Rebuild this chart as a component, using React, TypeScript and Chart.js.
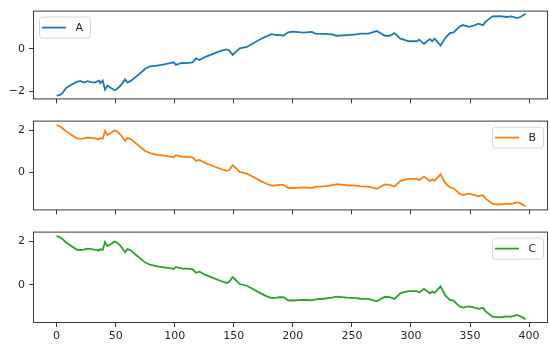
import React, { useEffect, useRef } from "react";
import { Chart, registerables } from "chart.js";

Chart.register(...registerables);

const xIndex = [
  0, 3, 5, 8, 12, 17, 20, 23, 26, 29, 32, 36, 37, 39, 41, 43, 46, 49, 51, 54,
  58, 60, 63, 67, 71, 75, 79, 85, 91, 96, 99, 101, 106, 110, 115, 118, 121, 126, 133, 139,
  144, 146, 149, 151, 155, 161, 167, 172, 178, 182, 186, 189, 192, 196, 200, 209, 216, 219, 226, 233,
  237, 246, 254, 257, 264, 271, 278, 282, 286, 291, 294, 298, 305, 307, 311, 316, 318, 320, 325, 329,
  333, 336, 341, 344, 349, 353, 357, 361, 363, 369, 375, 381, 385, 390, 393, 397,
];

const seriesA = [
  -2.2, -2.17, -2.07, -1.85, -1.7, -1.56, -1.51, -1.59, -1.52, -1.57, -1.59, -1.5, -1.62, -1.5, -1.92, -1.73, -1.85, -1.95, -1.89, -1.74,
  -1.44, -1.59, -1.5, -1.32, -1.14, -0.94, -0.83, -0.79, -0.74, -0.68, -0.64, -0.76, -0.67, -0.68, -0.64, -0.45, -0.53, -0.38, -0.23, -0.1,
  -0.03, -0.07, -0.29, -0.18, 0.02, 0.09, 0.27, 0.43, 0.59, 0.68, 0.64, 0.65, 0.61, 0.77, 0.8, 0.76, 0.79, 0.71, 0.7, 0.67,
  0.61, 0.64, 0.67, 0.71, 0.71, 0.83, 0.61, 0.61, 0.73, 0.47, 0.43, 0.35, 0.35, 0.43, 0.23, 0.45, 0.35, 0.47, 0.15, 0.5,
  0.73, 0.77, 1.03, 1.11, 1.03, 1.08, 1.18, 1.11, 1.26, 1.52, 1.53, 1.49, 1.52, 1.44, 1.5, 1.64,
];

const seriesB = [
  2.25, 2.18, 2.1, 1.95, 1.8, 1.62, 1.6, 1.62, 1.66, 1.64, 1.62, 1.58, 1.64, 1.6, 1.97, 1.78, 1.88, 1.99, 1.95, 1.8,
  1.5, 1.64, 1.58, 1.38, 1.2, 1.02, 0.92, 0.84, 0.8, 0.76, 0.72, 0.82, 0.74, 0.74, 0.72, 0.55, 0.6, 0.45, 0.3, 0.17,
  0.08, 0.12, 0.35, 0.25, 0.03, -0.05, -0.22, -0.38, -0.54, -0.62, -0.6, -0.58, -0.58, -0.72, -0.73, -0.7, -0.72, -0.68, -0.65, -0.6,
  -0.55, -0.6, -0.62, -0.65, -0.66, -0.77, -0.56, -0.58, -0.66, -0.4, -0.35, -0.3, -0.3, -0.36, -0.19, -0.4, -0.32, -0.38, -0.08, -0.5,
  -0.7, -0.74, -1.0, -1.06, -1.0, -1.05, -1.12, -1.07, -1.22, -1.48, -1.51, -1.47, -1.48, -1.4, -1.47, -1.59,
];

const seriesC = [
  2.25, 2.18, 2.1, 1.95, 1.8, 1.62, 1.6, 1.62, 1.66, 1.64, 1.62, 1.58, 1.64, 1.6, 1.97, 1.78, 1.88, 1.99, 1.95, 1.8,
  1.5, 1.64, 1.58, 1.38, 1.2, 1.02, 0.92, 0.84, 0.8, 0.76, 0.72, 0.82, 0.74, 0.74, 0.72, 0.55, 0.6, 0.45, 0.3, 0.17,
  0.08, 0.12, 0.35, 0.25, 0.03, -0.05, -0.22, -0.38, -0.54, -0.62, -0.6, -0.58, -0.58, -0.72, -0.73, -0.7, -0.72, -0.68, -0.65, -0.6,
  -0.55, -0.6, -0.62, -0.65, -0.66, -0.77, -0.56, -0.58, -0.66, -0.4, -0.35, -0.3, -0.3, -0.36, -0.19, -0.4, -0.32, -0.38, -0.08, -0.5,
  -0.7, -0.74, -1.0, -1.06, -1.0, -1.05, -1.12, -1.07, -1.22, -1.48, -1.51, -1.47, -1.48, -1.4, -1.47, -1.59,
];

const xTicks = [0, 50, 100, 150, 200, 250, 300, 350, 400];
const yTicksA = [-2, 0];
const yTicksB = [0, 2];
const yTicksC = [0, 2];
const seriesNames = ["A", "B", "C"];

const FONT = "DejaVu Sans";
const TEXT = "#262626";
const SPINE = "#3a3a3a";

type PanelProps = {
  values: number[];
  label: string;
  color: string;
  yMin: number;
  yMax: number;
  yTicks: number[];
  showXLabels: boolean;
  legendRight: boolean;
  top: number;
  height: number;
  padTop: number;
  xAxisH: number;
};

function Panel(p: PanelProps) {
  const ref = useRef<HTMLCanvasElement | null>(null);
  useEffect(() => {
    if (!ref.current) return;
    const innerLegend = {
      id: "innerLegend",
      afterDatasetsDraw(chart: any) {
        const { ctx, chartArea } = chart;
        const { left, right, top, bottom } = chartArea;
        ctx.save();
        ctx.strokeStyle = SPINE;
        ctx.lineWidth = 1;
        ctx.strokeRect(left + 0.5, top + 0.5, right - left - 1, bottom - top - 1);
        const bw = 51;
        const bh = 21;
        const bx = p.legendRight ? right - 5 - bw : left + 6;
        const by = top + 6;
        ctx.beginPath();
        (ctx as any).roundRect(bx + 0.5, by + 0.5, bw, bh, 3);
        ctx.fillStyle = "rgba(255,255,255,0.8)";
        ctx.fill();
        ctx.strokeStyle = "#d6d6d6";
        ctx.stroke();
        const cy = by + bh / 2 + 0.5;
        ctx.beginPath();
        ctx.moveTo(bx + 3, cy);
        ctx.lineTo(bx + 27, cy);
        ctx.strokeStyle = p.color;
        ctx.lineWidth = 1.8;
        ctx.stroke();
        ctx.fillStyle = TEXT;
        ctx.font = `11px "${FONT}"`;
        ctx.textBaseline = "middle";
        ctx.textAlign = "left";
        ctx.fillText(p.label, bx + 36.5, cy + 0.5);
        ctx.restore();
      },
    };
    const chart = new Chart(ref.current, {
      type: "line",
      data: {
        datasets: [
          {
            label: p.label,
            data: xIndex.map((x, i) => ({ x, y: p.values[i] })),
            borderColor: p.color,
            borderWidth: 1.8,
            pointRadius: 0,
            tension: 0,
            fill: false,
          },
        ],
      },
      options: {
        animation: false,
        responsive: false,
        devicePixelRatio: 1,
        layout: { padding: { top: p.padTop, right: 2, left: 0, bottom: 0 } },
        plugins: { legend: { display: false }, tooltip: { enabled: false } },
        scales: {
          x: {
            type: "linear",
            min: -20,
            max: 416,
            afterBuildTicks: (s: any) => {
              s.ticks = xTicks.map((v) => ({ value: v }));
            },
            afterFit: (s: any) => {
              s.height = p.xAxisH;
            },
            ticks: {
              display: p.showXLabels,
              autoSkip: false,
              maxRotation: 0,
              padding: 3,
              color: TEXT,
              font: { family: FONT, size: 11 },
            },
            grid: { drawOnChartArea: false, drawTicks: true, tickLength: 4, tickColor: SPINE },
            border: { display: false },
          },
          y: {
            type: "linear",
            min: p.yMin,
            max: p.yMax,
            afterBuildTicks: (s: any) => {
              s.ticks = p.yTicks.map((v) => ({ value: v }));
            },
            afterFit: (s: any) => {
              s.width = 33;
            },
            ticks: {
              autoSkip: false,
              padding: 4,
              color: TEXT,
              font: { family: FONT, size: 11 },
              callback: (v: any) => (Number(v) < 0 ? "\u2212" + Math.abs(Number(v)) : String(v)),
            },
            grid: { drawOnChartArea: false, drawTicks: true, tickLength: 4, tickColor: SPINE },
            border: { display: false },
          },
        },
      },
      plugins: [innerLegend],
    } as any);
    return () => chart.destroy();
  }, []);
  return (
    <canvas
      ref={ref}
      width={550}
      height={p.height}
      style={{ position: "absolute", left: 0, top: p.top, width: 550, height: p.height }}
    />
  );
}

export default function App() {
  return (
    <div style={{ position: "absolute", left: 0, top: 0, width: 550, height: 345, background: "#fff" }}>
      <Panel values={seriesA} label={seriesNames[0]} color="#1f77b4" yMin={-2.38} yMax={1.79} yTicks={yTicksA}
        showXLabels={false} legendRight={false} top={0} height={110} padTop={8} xAxisH={10} />
      <Panel values={seriesB} label={seriesNames[1]} color="#ff7f0e" yMin={-1.79} yMax={2.46} yTicks={yTicksB}
        showXLabels={false} legendRight={true} top={110} height={111} padTop={9} xAxisH={9} />
      <Panel values={seriesC} label={seriesNames[2]} color="#2ca02c" yMin={-1.77} yMax={2.45} yTicks={yTicksC}
        showXLabels={true} legendRight={true} top={221} height={124} padTop={9} xAxisH={22} />
    </div>
  );
}
